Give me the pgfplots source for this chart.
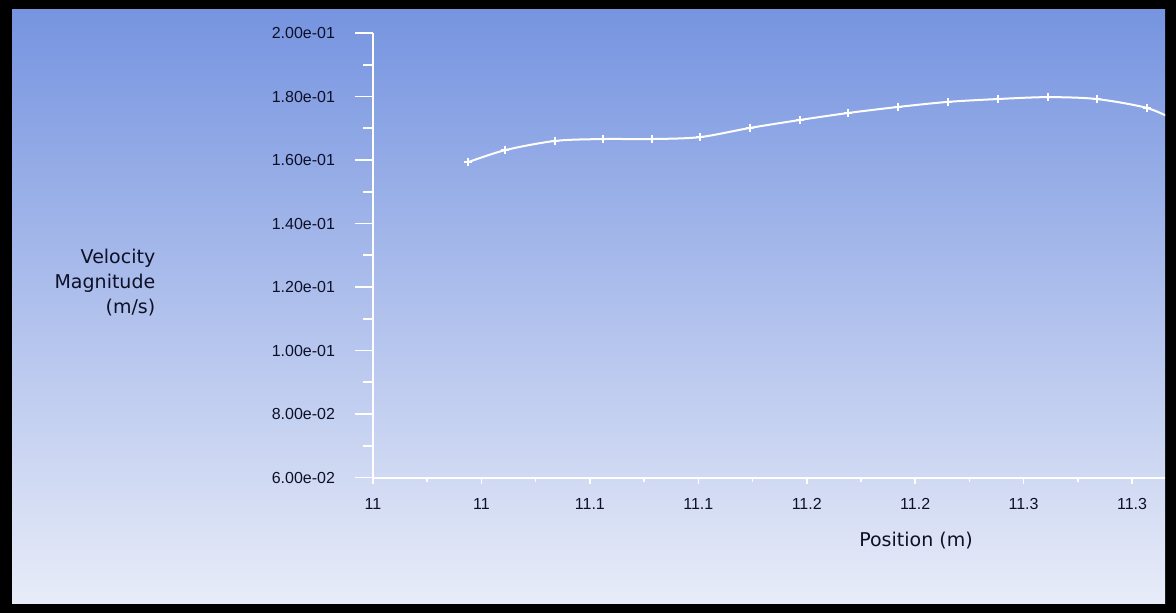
\documentclass[border=0pt]{standalone}
\usepackage{fontspec}
\setmainfont{DejaVu Sans}
\newfontfamily\tickfont{Liberation Sans}
\usepackage{pgfplots}
\pgfplotsset{compat=1.18}
\definecolor{bgtop}{RGB}{118,148,224}
\definecolor{bgbot}{RGB}{232,236,248}
\definecolor{lblcol}{RGB}{14,16,40}
\begin{document}
\begin{tikzpicture}
\fill[black] (0,0) rectangle (588pt,-306.5pt);
\shade[top color=bgtop, bottom color=bgbot] (6pt,-5pt) rectangle (582.5pt,-301.5pt);
% main axis with x ticks and the curve
\begin{axis}[
  at={(186.5pt,-238.75pt)}, anchor=south west,
  scale only axis, width=396pt, height=222.25pt,
  xmin=11.0, xmax=11.3652, ymin=0.06, ymax=0.2,
  axis x line=bottom, axis y line=none,
  axis line style={-, white, line width=1pt},
  tick align=outside,
  major tick length=3pt, minor tick length=2pt,
  tick style={white, line width=0.8pt},
  xtick={11.0,11.05,11.1,11.15,11.2,11.25,11.3,11.35},
  xticklabels={11,11,11.1,11.1,11.2,11.2,11.3,11.3},
  minor x tick num=1,
  xticklabel style={font=\tickfont\fontsize{8}{9}\selectfont, text=lblcol, yshift=-4pt},
  xlabel={Position (m)},
  xlabel style={font=\fontsize{9.5}{11}\selectfont, text=lblcol, at={(axis description cs:0.6856,-0.1429)}, anchor=center},
  clip=true,
]
\addplot[white, line width=1pt, smooth, mark=+, mark size=2pt, mark options={line width=0.8pt}] coordinates {
(11.0438,0.1593) (11.0609,0.1631) (11.0839,0.1660) (11.1060,0.1666)
(11.1286,0.1666) (11.1507,0.1672) (11.1738,0.1701) (11.1968,0.1726)
(11.2190,0.1748) (11.2420,0.1767) (11.2651,0.1783) (11.2881,0.1792)
(11.3112,0.1798) (11.3337,0.1792) (11.3568,0.1764) (11.3700,0.1725)
};
\end{axis}
% y axis
\begin{axis}[
  at={(186.5pt,-238.75pt)}, anchor=south west,
  scale only axis, width=396pt, height=222.25pt,
  xmin=11.0, xmax=11.3652, ymin=0.06, ymax=0.2,
  axis y line=left, axis x line=none,
  axis line style={-, white, line width=1pt},
  tick align=outside,
  major tick length=9pt, minor tick length=5pt,
  tick style={white, line width=0.8pt},
  ytick={0.06,0.08,0.10,0.12,0.14,0.16,0.18,0.20},
  yticklabels={6.00e-02,8.00e-02,1.00e-01,1.20e-01,1.40e-01,1.60e-01,1.80e-01,2.00e-01},
  minor y tick num=1,
  yticklabel style={font=\tickfont\fontsize{8}{9}\selectfont, text=lblcol, anchor=east, xshift=-6.5pt},
  ylabel={Velocity\\Magnitude\\(m/s)},
  ylabel style={font=\fontsize{9.5}{12.5}\selectfont, text=lblcol, align=right, rotate=-90, at={(axis description cs:-0.266,0.4376)}, anchor=east},
]
\addplot[draw=none] coordinates {(11.1,0.1)};
\end{axis}
\end{tikzpicture}
\end{document}
